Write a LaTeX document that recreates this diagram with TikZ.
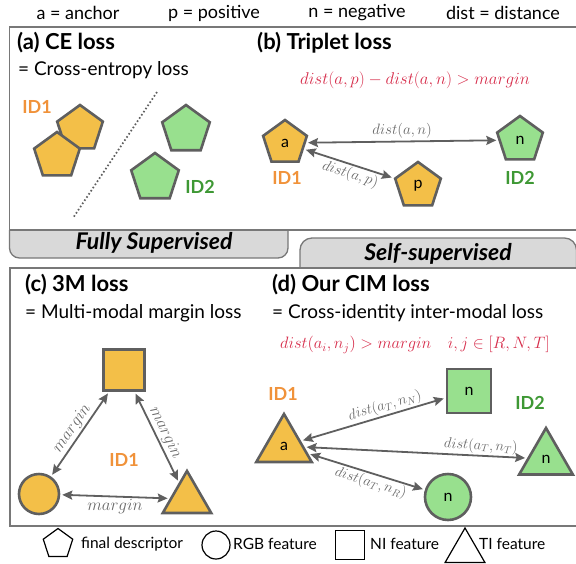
\RequirePackage{fix-cm}
\documentclass[tikz,border=0pt]{standalone}
\usepackage{fontspec}
\setmainfont{Lato}
\usetikzlibrary{shapes.geometric,arrows.meta,calc}

\definecolor{fillor}{RGB}{243,191,72}
\definecolor{fillgr}{RGB}{152,224,142}
\definecolor{edgegray}{RGB}{95,95,95}
\definecolor{idorange}{RGB}{240,146,58}
\definecolor{idgreen}{RGB}{62,152,52}
\definecolor{formred}{RGB}{214,45,75}
\definecolor{tabgray}{RGB}{217,217,217}
\definecolor{framegray}{RGB}{120,120,120}
\definecolor{labgray}{RGB}{105,105,105}

\tikzset{
  feat/.style={draw=edgegray, line width=2.6pt, inner sep=0pt,
    font=\fontsize{16}{16}\selectfont},
  pent/.style={feat, regular polygon, regular polygon sides=5, minimum size=#1},
  tri/.style={feat, regular polygon, regular polygon sides=3, minimum size=#1},
  sqr/.style={feat, rectangle, minimum size=#1},
  circ/.style={feat, circle, minimum size=#1},
  lgshape/.style={draw=black, line width=1.2pt, inner sep=0pt},
  link/.style={draw=edgegray, line width=1.8pt,
    {Stealth[length=10pt,width=9pt,inset=1.5pt]}-{Stealth[length=10pt,width=9pt,inset=1.5pt]},
    shorten >=2pt, shorten <=2pt},
  frame/.style={draw=framegray, line width=1.3pt},
  title/.style={anchor=west, inner sep=0pt, font=\bfseries\fontsize{22}{22}\selectfont},
  sub/.style={anchor=west, inner sep=0pt, font=\fontsize{19}{19}\selectfont},
  legtext/.style={inner sep=0pt, font=\fontsize{18}{18}\selectfont},
  keytext/.style={inner sep=0pt, font=\fontsize{15.5}{15.5}\selectfont},
  tabtext/.style={inner sep=0pt, font=\bfseries\itshape\fontsize{23}{23}\selectfont},
  idor/.style={text=idorange, inner sep=0pt, font=\bfseries\fontsize{18}{18}\selectfont},
  idgr/.style={text=idgreen, inner sep=0pt, font=\bfseries\fontsize{18}{18}\selectfont},
  formula/.style={text=formred, inner sep=0pt, font=\fontsize{#1}{#1}\selectfont},
  dlab/.style={text=labgray, inner sep=1.5pt, font=\fontsize{#1}{#1}\selectfont},
  mlab/.style={text=labgray, inner sep=1.5pt, font=\fontsize{17}{17}\selectfont},
}

\begin{document}
\begin{tikzpicture}[x=1pt,y=-1pt]
\useasboundingbox (0,0) rectangle (576,563);
\begin{scope}
\clip (0,0) rectangle (576,563);

% ---- top legend ----
\node[legtext] (k1) at (78,13) {a = anchor};
\node[legtext] (k2) at (214,13) {p = positive};
\node[legtext] (k3) at (357,13) {n = negative};
\node[legtext] (k4) at (503,13) {dist = distance};

% ---- upper frame with the "Fully Supervised" tab ----
\draw[frame] (590,27) -- (9.5,27) -- (9.5,230);
\filldraw[frame, fill=tabgray, rounded corners=10pt]
  (9.5,230) -- (9.5,258) -- (288,258) -- (288,230);
\draw[frame] (9.5,230) -- (590,230);
\node[tabtext] (fs) at (154,243) {Fully Supervised};

% ---- "Self-supervised" tab and lower frame ----
\filldraw[frame, fill=tabgray, rounded corners=12pt]
  (300,268) -- (300,238) -- (576.5,238) -- (576.5,268);
\draw[frame] (590,268) -- (10,268) -- (10,526) -- (590,526);
\node[tabtext] (ss) at (438,254) {Self-supervised};

% ---- (a) CE loss ----
\node[title] (ta) at (17,43) {(a) CE loss};
\node[sub] (sa) at (18,70) {= Cross-entropy loss};
\node[pent=48, fill=fillor] (o1) at (80,129) {};
\node[pent=48, fill=fillor] (o2) at (57,156) {};
\node[pent=50, fill=fillgr] (g1) at (186,130) {};
\node[pent=50, fill=fillgr] (g2) at (155,178) {};
\node[idor] (ida) at (37,107) {ID1};
\node[idgr] (idb) at (200,187) {ID2};
\coordinate (sepT) at (157,92);
\coordinate (sepB) at (73,218);
\draw[edgegray, line width=1.7pt, dash pattern=on 1.6pt off 2.2pt] (sepT) -- (sepB);

% ---- (b) Triplet loss ----
\node[title] (tb) at (257,43) {(b) Triplet loss};
\node[formula=17] (fb) at (415,80) {$dist(a,p) - dist(a,n) > margin$};
\node[pent=46, fill=fillor] (pa) at (285,143) {a};
\node[pent=48, fill=fillgr] (pn) at (520,140) {n};
\node[pent=48, fill=fillor] (pp) at (418,186) {p};
\node[idor] (idb1) at (287,178) {ID1};
\node[idgr] (idb2) at (520,178) {ID2};
\draw[link] (pa) -- node[dlab=15, above=1pt] {$dist(a,n)$} (pn);
\draw[link] (pa) -- node[dlab=15, sloped, below, pos=0.55] {$dist(a,p)$} (pp);

% ---- (c) 3M loss ----
\node[title] (tc) at (25,285) {(c) 3M loss};
\node[sub] (sc) at (25,313) {= Multi-modal margin loss};
\node[sqr=41, fill=fillor] (csq) at (124,370) {};
\node[circ=40, fill=fillor] (ccir) at (39,494) {};
\node[tri=56, fill=fillor] (ctri) at (187,499) {};
\node[idor] (idc) at (124,460) {ID1};
\draw[link] (ccir) -- node[mlab, sloped, above] {$margin$} (csq);
\draw[link] (csq) -- node[mlab, sloped, above] {$margin$} (ctri);
\draw[link] (ccir) -- node[mlab, below] {$margin$} (ctri);

% ---- (d) Our CIM loss ----
\node[title] (td) at (272,285) {(d) Our CIM loss};
\node[sub] (sd) at (272,313) {= Cross-identity inter-modal loss};
\node[formula=16.5] (fd) at (415,345) {$dist(a_i, n_j) > margin \quad i, j \in [R, N, T]$};
\node[tri=64, fill=fillor] (dta) at (284,446) {a};
\node[sqr=44, fill=fillgr] (dsq) at (469,391) {n};
\node[tri=62, fill=fillgr] (dtn) at (546,459) {n};
\node[circ=46, fill=fillgr] (dci) at (448,497) {n};
\node[idor] (idd1) at (283,394) {ID1};
\node[idgr] (idd2) at (530,403) {ID2};
\draw[link] (dta) -- node[dlab=14.6, sloped, above, pos=0.6] {$dist(a_T, n_N)$} (dsq);
\draw[link] (dta) -- node[dlab=14.6, sloped, above, pos=0.79] {$dist(a_T, n_T)$} (dtn);
\draw[link] (dta) -- node[dlab=14.6, sloped, below, pos=0.56] {$dist(a_T, n_R)$} (dci);

% ---- bottom legend ----
\node[lgshape, regular polygon, regular polygon sides=5, minimum size=31] (lp) at (58,544) {};
\node[keytext, anchor=west] (lpt) at (81,544) {final descriptor};
\node[lgshape, circle, minimum size=28] (lc) at (216,545) {};
\node[keytext, anchor=west] (lct) at (233,544) {RGB feature};
\node[lgshape, rectangle, minimum size=29] (ls) at (350,545) {};
\node[keytext, anchor=west] (lst) at (370,544) {NI feature};
\node[lgshape, regular polygon, regular polygon sides=3, minimum size=46] (lt) at (465,551) {};
\node[keytext, anchor=west] (ltt) at (479,544) {TI feature};
\end{scope}
\end{tikzpicture}
\end{document}
